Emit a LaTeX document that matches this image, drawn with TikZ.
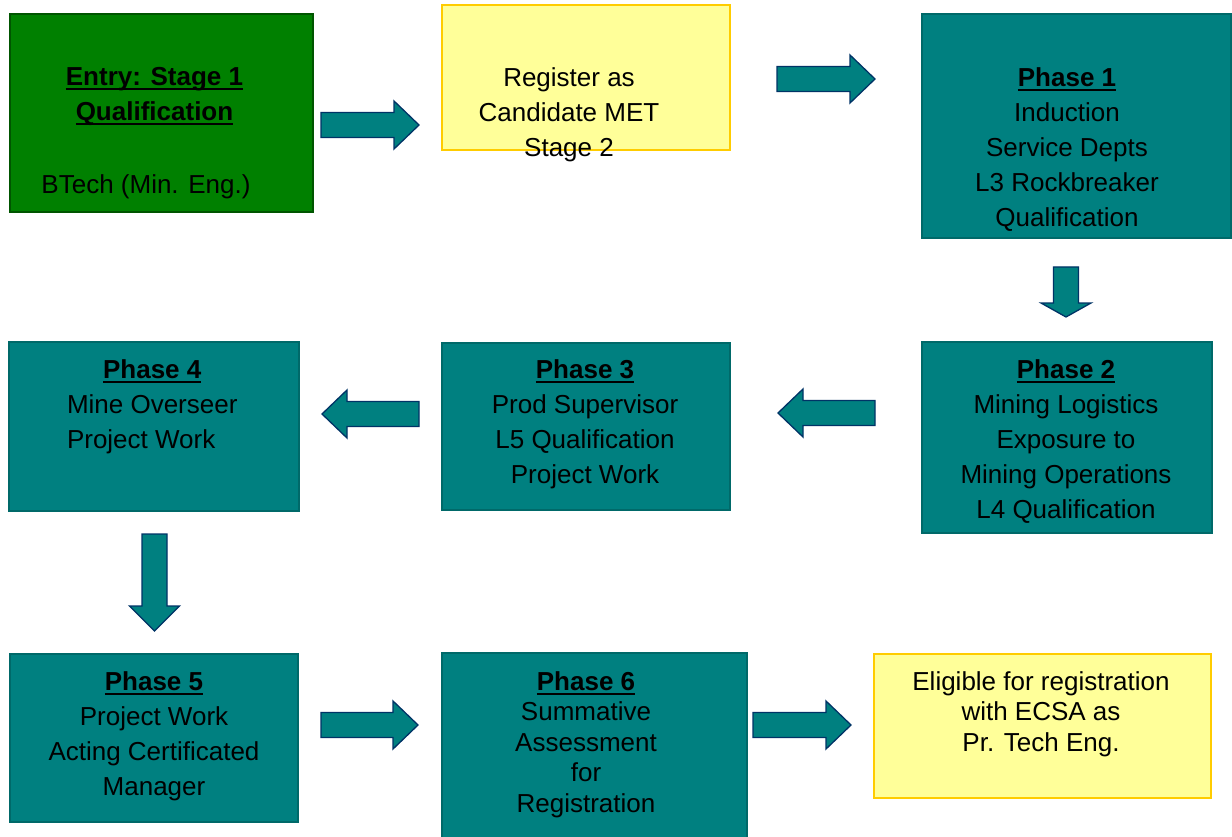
\documentclass[tikz,border=0pt]{standalone}
\usepackage{fontspec}
\setmainfont{Liberation Sans}
\definecolor{boxgreen}{RGB}{0,128,0}
\definecolor{boxgreenline}{RGB}{0,85,0}
\definecolor{boxteal}{RGB}{0,128,128}
\definecolor{boxtealline}{RGB}{0,105,105}
\definecolor{boxyellow}{RGB}{255,255,153}
\definecolor{boxyellowline}{RGB}{255,204,0}
\definecolor{arrowline}{RGB}{0,51,102}
\newcommand\bx[6]{\node[#1, minimum width={#5-#3}, minimum height={#6-#4}] (#2) at ({(#3+#5)/2},{(#4+#6)/2}) {};}
\newcommand\arR[3]{\draw[blockarrow] (#1,#3-12.5) -- (#2-25,#3-12.5) -- (#2-25,#3-24) -- (#2,#3) -- (#2-25,#3+24) -- (#2-25,#3+12.5) -- (#1,#3+12.5) -- cycle;}
\newcommand\arL[3]{\draw[blockarrow] (#1,#3-12.5) -- (#2+25,#3-12.5) -- (#2+25,#3-24) -- (#2,#3) -- (#2+25,#3+24) -- (#2+25,#3+12.5) -- (#1,#3+12.5) -- cycle;}
\newcommand\arD[4]{\draw[blockarrow] (#1-12.5,#2) -- (#1-12.5,#3-#4) -- (#1-25,#3-#4) -- (#1,#3) -- (#1+25,#3-#4) -- (#1+12.5,#3-#4) -- (#1+12.5,#2) -- cycle;}
\newcommand\ttl[1]{\leavevmode\setbox0\hbox{\textbf{#1}}\rlap{\rule[-4.5pt]{\wd0}{2.2pt}}\box0}
\tikzset{
  basebox/.style={rectangle, inner sep=0pt, outer sep=0pt, line width=1.5pt},
  greenbox/.style={basebox, fill=boxgreen, draw=boxgreenline},
  tealbox/.style={basebox, fill=boxteal, draw=boxtealline},
  yellowbox/.style={basebox, fill=boxyellow, draw=boxyellowline},
  blockarrow/.style={fill=boxteal, draw=arrowline, line width=1.3pt, line join=miter},
  txt/.style={inner sep=0pt, outer sep=0pt, align=center, anchor=north, text=black,
    font=\fontsize{26}{35}\selectfont},
  txttight/.style={txt, font=\fontsize{26}{30.5}\selectfont},
}
\begin{document}
\begin{tikzpicture}[x=1pt,y=-1pt]
\clip (0,0) rectangle (1232,837);
\fill[white] (0,0) rectangle (1232,837);
% boxes
\bx{greenbox}{entry}{10}{14}{313}{212}
\bx{yellowbox}{reg}{442}{5}{730}{150}
\bx{tealbox}{p1}{922}{14}{1231}{238}
\bx{tealbox}{p2}{922}{342}{1212}{533}
\bx{tealbox}{p3}{442}{343}{730}{510}
\bx{tealbox}{p4}{9}{342}{299}{511}
\bx{tealbox}{p5}{10}{654}{298}{822}
\bx{tealbox}{p6}{442}{653}{747}{850}
\bx{yellowbox}{elig}{874}{654}{1211}{798}
% texts
\node[txt] (tentry) at (154.5,76-15.2) {\strut\ttl{Entry: Stage 1}\\\ttl{Qualification}};
\node[txt] (tbtech) at (146,184-15.2) {\strut BTech (Min. Eng.)};
\node[txt] (treg) at (569,77-15.2) {\strut Register as\\Candidate MET\\Stage 2};
\node[txt] (tp1) at (1067,77-15.2) {\strut\ttl{Phase 1}\\Induction\\Service Depts\\L3 Rockbreaker\\Qualification};
\node[txt] (tp2) at (1066,369-15.2) {\strut\ttl{Phase 2}\\Mining Logistics\\Exposure to\\Mining Operations\\L4 Qualification};
\node[txt] (tp3) at (585,369-15.2) {\strut\ttl{Phase 3}\\Prod Supervisor\\L5 Qualification\\Project Work};
\node[txt, anchor=north west] (tp4) at (67,369-15.2) {\begin{tabular}{@{}l@{}}\multicolumn{1}{@{}c@{}}{\strut\ttl{Phase 4}}\\Mine Overseer\\Project Work\end{tabular}};
\node[txt] (tp5) at (154,681-15.2) {\strut\ttl{Phase 5}\\Project Work\\Acting Certificated\\Manager};
\node[txttight] (tp6) at (586,681-12) {\strut\ttl{Phase 6}\\Summative\\Assessment\\for\\Registration};
\node[txttight] (telig) at (1041,681-12) {\strut Eligible for registration\\with ECSA as\\Pr. Tech Eng.};
% block arrows
\arR{321}{419}{125}
\arR{777}{875}{79}
\arD{1066}{267}{317}{14}
\arL{875}{778}{413}
\arL{419}{322}{414}
\arD{154.5}{534}{631}{25}
\arR{321}{418}{725}
\arR{753}{851}{725}
\end{tikzpicture}
\end{document}
